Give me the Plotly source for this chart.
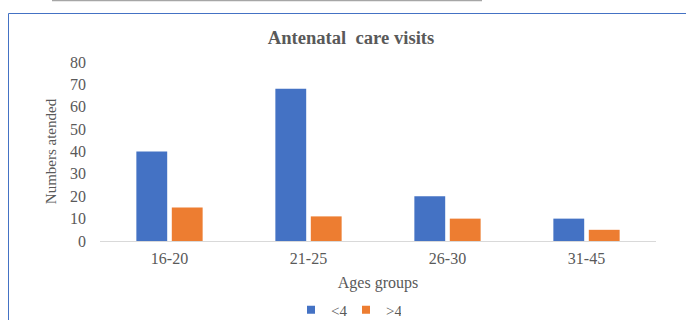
import plotly.graph_objects as go

categories = ["16-20", "21-25", "26-30", "31-45"]
less_than_4 = [40, 68, 20, 10]
more_than_4 = [15, 11, 10, 5]
series_names = ["<4", ">4"]
series_colors = ["#4472C4", "#ED7D31"]
y_ticks = [0, 10, 20, 30, 40, 50, 60, 70, 80]

W, H = 686, 320
L, R, T, B = 100, 30, 62, 79
pw, ph = W - L - R, H - T - B

def px(x):
    return (x - L) / pw

def py(y):
    return (H - B - y) / ph

font = "Liberation Serif"
grey = "#595959"

fig = go.Figure()
for name, vals, col in zip(series_names, [less_than_4, more_than_4], series_colors):
    fig.add_trace(go.Bar(x=categories, y=vals, name=name, showlegend=False,
                         marker=dict(color=col, line=dict(width=0))))
# legend swatches (small squares like the reference)
for name, col in zip(series_names, series_colors):
    fig.add_trace(go.Scatter(x=[None], y=[None], mode="markers", name=name,
                             marker=dict(symbol="square", size=8, color=col),
                             showlegend=True, hoverinfo="skip"))

fig.update_layout(
    width=W, height=H,
    margin=dict(l=L, r=R, t=T, b=B, pad=0, autoexpand=False),
    paper_bgcolor="white", plot_bgcolor="white",
    barmode="group", bargap=0.49, bargroupgap=0.13,
    font=dict(family=font, color=grey, size=16),
    title=dict(text="<b>Antenatal\u00a0 care visits</b>", x=351 / W, xanchor="center",
               y=1 - 37 / H, yanchor="middle", font=dict(family=font, size=18.6, color=grey)),
    showlegend=True,
    legend=dict(orientation="h", x=px(346), xanchor="center", y=py(310), yanchor="middle",
                font=dict(family=font, size=15, color=grey), itemwidth=30, itemsizing="trace",
                entrywidth=10, traceorder="normal", bgcolor="rgba(0,0,0,0)"),
    xaxis=dict(showline=True, linecolor="#D9D9D9", linewidth=1, showgrid=False,
               ticks="", tickfont=dict(family=font, size=16, color=grey), automargin=False,
               ticklabelstandoff=3,
               title=dict(text="Ages groups", font=dict(family=font, size=16, color=grey), standoff=10),
               zeroline=False),
    yaxis=dict(range=[0, 80], tickvals=y_ticks, showgrid=False, zeroline=False,
               showline=False, ticks="", ticklabelstandoff=13, automargin=False,
               tickfont=dict(family=font, size=16, color=grey),
               title=dict(text="Numbers atended", font=dict(family=font, size=15, color=grey), standoff=9)),
    shapes=[
        dict(type="line", xref="paper", yref="paper", x0=px(52), x1=px(482), y0=py(0.5), y1=py(0.5),
             line=dict(color="#A6A6A6", width=1.5)),
        dict(type="line", xref="paper", yref="paper", x0=px(8.5), x1=px(8.5), y0=py(13.5), y1=py(325),
             line=dict(color="#4472C4", width=1)),
        dict(type="line", xref="paper", yref="paper", x0=px(8.5), x1=px(690), y0=py(13.5), y1=py(13.5),
             line=dict(color="#4472C4", width=1)),
    ],
)

fig.write_html("out.html")
